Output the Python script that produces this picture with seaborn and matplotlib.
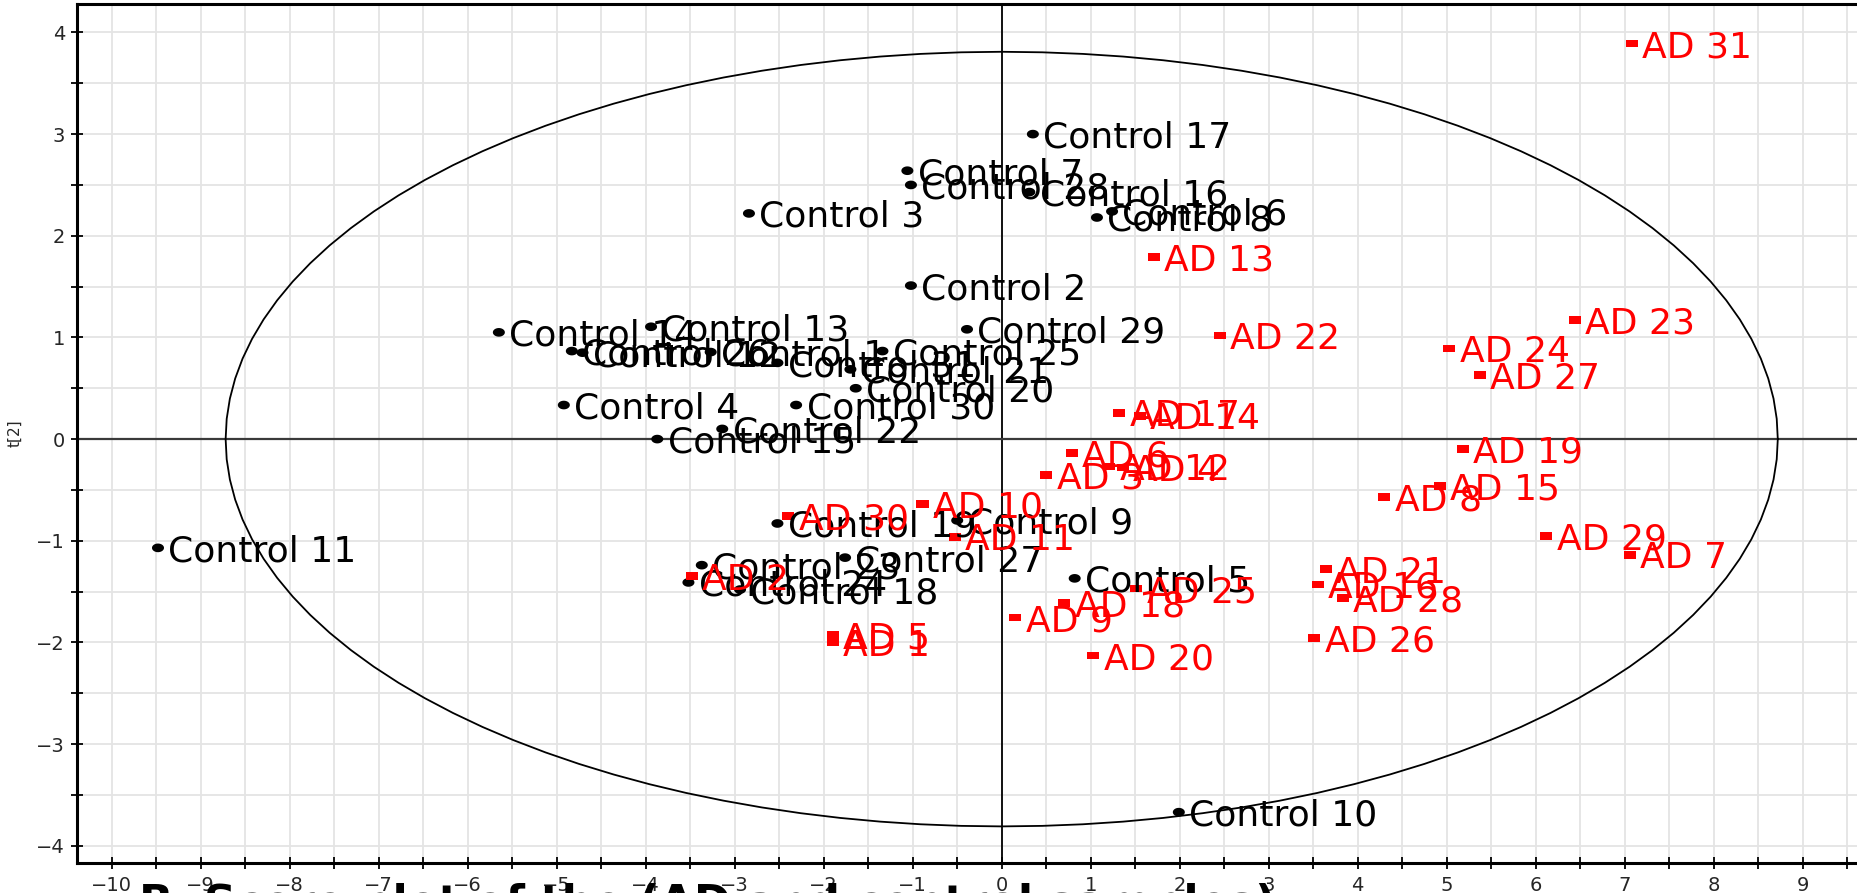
import numpy as np
import pandas as pd
import matplotlib
matplotlib.use("Agg")
import matplotlib.pyplot as plt
from matplotlib.path import Path
from matplotlib.ticker import MultipleLocator
import seaborn as sns

# ---- PCA scores: control samples ----
control_labels = [f"Control {i}" for i in range(1, 32)]
control_t1 = [-3.27, -1.02, -2.84, -4.92, 0.82, 1.24, -1.06, 1.07, -0.50, 1.99,
              -9.48, -4.71, -3.94, -5.65, -3.87, 0.31, 0.35, -2.94, -2.52, -1.64,
              -1.70, -3.14, -3.37, -3.52, -1.34, -4.83, -1.76, -1.02, -0.39, -2.31,
              -2.52]
control_t2 = [0.856, 1.51, 2.22, 0.335, -1.37, 2.24, 2.64, 2.18, -0.80, -3.67,
              -1.07, 0.85, 1.105, 1.05, 0.0, 2.43, 3.00, -1.48, -0.83, 0.50,
              0.686, 0.10, -1.24, -1.41, 0.866, 0.866, -1.166, 2.50, 1.08, 0.335,
              0.75]

# ---- PCA scores: AD samples ----
ad_labels = [f"AD {i}" for i in range(1, 32)]
ad_t1 = [-1.90, -3.48, 0.50, 1.36, -1.90, 0.79, 7.06, 4.30, 0.154, -0.89,
         -0.53, 1.21, 1.71, 1.55, 4.92, 3.55, 1.32, 0.705, 5.18, 1.03,
         3.64, 2.45, 6.44, 5.03, 1.51, 3.51, 5.37, 3.83, 6.12, -2.40,
         7.08]
ad_t2 = [-2.00, -1.35, -0.35, -0.28, -1.93, -0.14, -1.14, -0.57, -1.756, -0.64,
         -0.96, -0.27, 1.79, 0.23, -0.46, -1.43, 0.257, -1.61, -0.10, -2.13,
         -1.28, 1.02, 1.17, 0.89, -1.47, -1.96, 0.63, -1.565, -0.95, -0.756,
         3.89]

# Hotelling T2 (95%) ellipse semi-axes
ellipse_a = 8.72
ellipse_b = 3.81

x_ticks = list(range(-10, 10))
y_ticks = list(range(-4, 5))

caption = "B  Score plot of the (AD and control samples)"

df = pd.DataFrame({
    "t1": control_t1 + ad_t1,
    "t2": control_t2 + ad_t2,
    "label": control_labels + ad_labels,
    "group": ["Control"] * len(control_labels) + ["AD"] * len(ad_labels),
})

sns.set_theme(style="white")
plt.rcParams["font.family"] = ["DejaVu Sans"]

fig = plt.figure(figsize=(18.57, 8.93), dpi=100)
ax = fig.add_axes([77 / 1857, 1 - 863 / 893, 1 - 77 / 1857, (863 - 4) / 893])

# wide dot / wide bar markers
th = np.linspace(0, 2 * np.pi, 40)
dot = Path(np.column_stack([np.cos(th), 0.72 * np.sin(th)]), closed=True)
bar = Path([(-1, -0.64), (1, -0.64), (1, 0.64), (-1, 0.64), (-1, -0.64)], closed=True)

palette = {"Control": "black", "AD": "#ff0000"}
sns.scatterplot(data=df, x="t1", y="t2", hue="group", style="group",
                markers={"Control": dot, "AD": bar}, palette=palette,
                s=75, linewidth=0, legend=False, ax=ax, zorder=4)

for _, r in df.iterrows():
    ax.annotate(r["label"], (r["t1"], r["t2"]), xytext=(7.5, 0),
                textcoords="offset points", ha="left", va="center_baseline",
                fontsize=26, color=palette[r["group"]], zorder=5)

# confidence ellipse
t = np.linspace(0, 2 * np.pi, 121)
ax.plot(ellipse_a * np.cos(t), ellipse_b * np.sin(t), color="black", lw=1.3, zorder=3)

# zero lines
ax.axvline(0, color="black", lw=1.3, zorder=2)
ax.axhline(0, color="#3a3a3a", lw=1.6, zorder=2)

ax.set_xlim(-10.39, 9.61)
ax.set_ylim(-4.17, 4.28)
ax.set_xticks(x_ticks)
ax.set_yticks(y_ticks)
ax.xaxis.set_minor_locator(MultipleLocator(0.5))
ax.yaxis.set_minor_locator(MultipleLocator(0.5))
ax.grid(True, which="both", color="#e4e4e4", lw=1.3, zorder=0)
ax.set_axisbelow(True)
ax.tick_params(which="both", direction="inout", length=9, width=1.3, color="black",
               bottom=True, left=True, labelsize=14)
ax.tick_params(axis="x", pad=5)
ax.tick_params(axis="y", pad=4)

for side in ["left", "bottom", "top"]:
    ax.spines[side].set_visible(True)
    ax.spines[side].set_color("black")
    ax.spines[side].set_linewidth(2.2)
ax.spines["right"].set_visible(False)

ax.set_xlabel("")
ax.set_ylabel("t[2]", fontsize=11, labelpad=10)

# figure caption below the axis, largely outside the canvas
fig.text(139 / 1857, -0.027, caption, fontsize=32, fontweight="bold",
         ha="left", va="baseline", color="black", zorder=0)

fig.savefig("out.png", dpi=100)
